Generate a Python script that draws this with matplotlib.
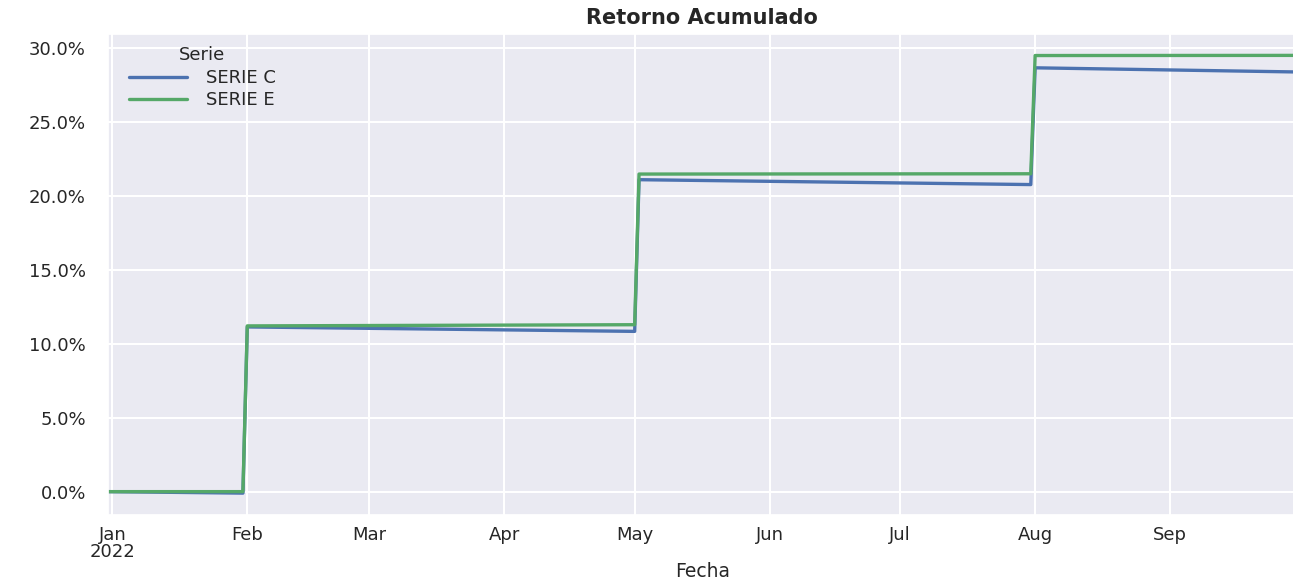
import matplotlib
matplotlib.use("Agg")
import matplotlib.pyplot as plt
import matplotlib.dates as mdates
from matplotlib.ticker import PercentFormatter, FuncFormatter
import pandas as pd
import seaborn as sns

# ---- data (breakpoints of the cumulative-return paths, in %) ----
dates = pd.to_datetime([
    "2021-12-31", "2022-01-31", "2022-02-01", "2022-05-01",
    "2022-05-02", "2022-07-31", "2022-08-01", "2022-09-30",
])
serie_c = [0.0, -0.10, 11.13, 10.83, 21.08, 20.75, 28.64, 28.36]
serie_e = [0.0, 0.00, 11.20, 11.28, 21.46, 21.48, 29.47, 29.48]
series_names = ["SERIE C", "SERIE E"]
title = "Retorno Acumulado"
xlabel = "Fecha"
legend_title = "Serie"

sns.set_theme(style="darkgrid")
plt.rcParams["font.family"] = ["DejaVu Sans"]
text_color = "0.15"

fig = plt.figure(figsize=(12.93, 5.82), dpi=100)
ax = fig.add_axes([108 / 1293, 67 / 582, (1296.3 - 108) / 1293, 481.5 / 582])

colors = ["#4C72B0", "#55A868"]
for name, vals, col in zip(series_names, [serie_c, serie_e], colors):
    ax.plot(dates, vals, color=col, lw=2.4, label=name)

ax.set_xlim(dates[0], dates[-1])
ax.margins(y=0.05)

ax.xaxis.set_major_locator(mdates.MonthLocator())
def fmt(x, pos):
    d = mdates.num2date(x)
    s = d.strftime("%b")
    if d.month == 1:
        s += "\n" + d.strftime("%Y")
    return s
ax.xaxis.set_major_formatter(FuncFormatter(fmt))
ax.yaxis.set_major_formatter(PercentFormatter(100, decimals=1))

ax.grid(True, color="white", lw=1.5)
ax.tick_params(axis="x", labelsize=13, pad=8, colors=text_color, length=0)
ax.tick_params(axis="y", labelsize=13, pad=16, colors=text_color, length=0)
for lab in ax.get_xticklabels():
    lab.set_linespacing(0.95)

ax.set_title(title, fontsize=15, fontweight="bold", color=text_color, pad=7)
ax.set_xlabel(xlabel, fontsize=13.5, color=text_color, labelpad=0.5)

leg = ax.legend(title=legend_title, loc="upper left", frameon=False,
                fontsize=13, title_fontsize=13, handlelength=3.2,
                handletextpad=1.05, labelspacing=0.25,
                bbox_to_anchor=(0.004, 1.007))
for t in leg.get_texts():
    t.set_color(text_color)
leg.get_title().set_color(text_color)

fig.savefig("out.png", dpi=100)
